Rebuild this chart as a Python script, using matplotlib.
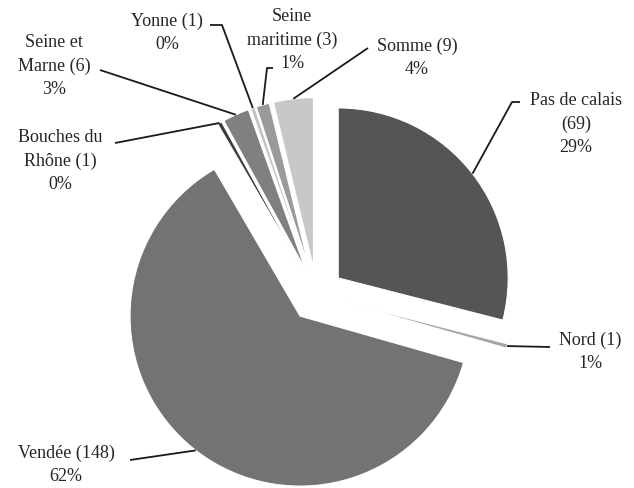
import numpy as np
import matplotlib.pyplot as plt

# Data
departements = ['Pas de calais', 'Nord', 'Vendée', 'Bouches du\nRhône', 'Seine et\nMarne',
                'Yonne', 'Seine\nmaritime', 'Somme']
counts = [69, 1, 148, 1, 6, 1, 3, 9]
pct_labels = ['29%', '1%', '62%', '0%', '3%', '0%', '1%', '4%']
colors = ['#555555', '#a5a5a5', '#737373', '#3c3c3c', '#808080', '#c4c4c4', '#9a9a9a', '#c8c8c8']

# label texts as shown on the chart
label_texts = ['Pas de calais\n(69)\n29%', 'Nord (1)\n1%', 'Vendée (148)\n62%',
               'Bouches du\nRhône (1)\n0%', 'Seine et\nMarne (6)\n3%', 'Yonne (1)\n0%',
               'Seine\nmaritime (3)\n1%', 'Somme (9)\n4%']

W, H = 634, 488
cx, cy, R = 316.7, 294.6, 170.0
explode_frac = 0.16

fig = plt.figure(figsize=(W / 100, H / 100), dpi=100)
ax = fig.add_axes([0, 0, 1, 1])
ax.set_xlim(-cx / R, (W - cx) / R)
ax.set_ylim(-(H - cy) / R, cy / R)
ax.axis('off')


def px(x, y):
    return (x - cx) / R, (cy - y) / R


wedges, _ = ax.pie(counts, colors=colors, startangle=90, counterclock=False,
                   explode=[explode_frac] * len(counts), radius=1.0,
                   wedgeprops=dict(edgecolor='white', linewidth=0.8),
                   frame=False)
ax.set_xlim(-cx / R, (W - cx) / R)
ax.set_ylim(-(H - cy) / R, cy / R)
ax.set_aspect('auto')

# label layout (pixel positions of text block centres and leader elbows)
text_pos = [(576, 124), (590, 352), (66, 465), (60, 161), (54, 66), (167, 33), (292, 40), (417, 58)]
leader_pts = [
    [(520, 102), (512, 102)],
    [(550, 347)],
    [(130, 460)],
    [(115, 143)],
    [(100, 70)],
    [(210, 25), (222, 25)],
    [(273, 68), (267, 68)],
    [(368, 48)],
]

font = ['Liberation Serif', 'DejaVu Serif']
for w, txt, tp, pts in zip(wedges, label_texts, text_pos, leader_pts):
    mid = np.deg2rad((w.theta1 + w.theta2) / 2)
    ox, oy = w.center
    ax_, ay_ = ox + np.cos(mid), oy + np.sin(mid)
    xs = [px(*p)[0] for p in pts] + [ax_]
    ys = [px(*p)[1] for p in pts] + [ay_]
    ax.plot(xs, ys, color='#1a1a1a', lw=1.3, solid_capstyle='butt')
    tx, ty = px(*tp)
    ax.text(tx, ty, txt, ha='center', va='center', fontsize=13, family=font,
            color='#262626', linespacing=1.45)

fig.savefig('out.png', dpi=100, facecolor='white')
